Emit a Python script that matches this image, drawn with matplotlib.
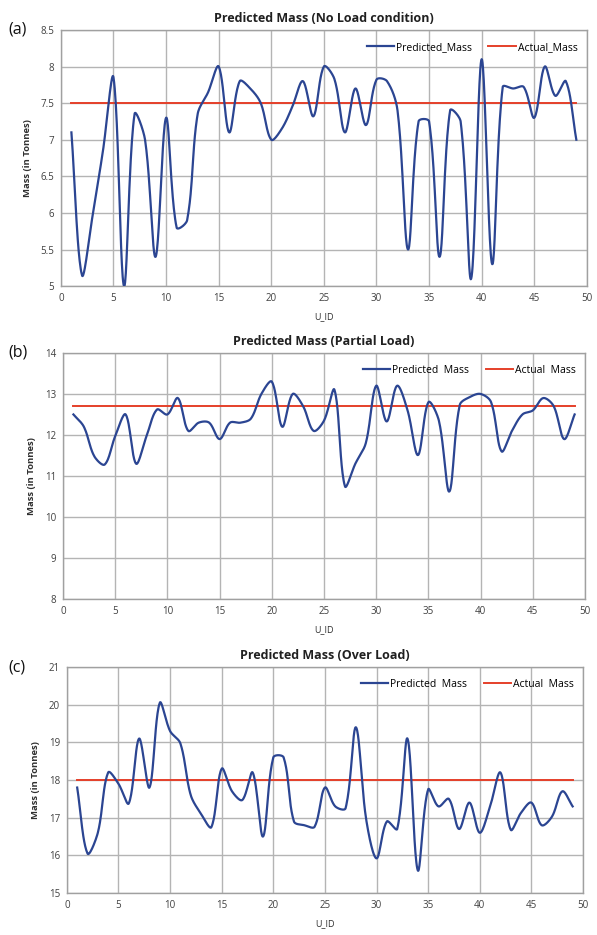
import numpy as np
import matplotlib
matplotlib.use("Agg")
import matplotlib.pyplot as plt

plt.rcParams['font.family'] = ['Open Sans', 'DejaVu Sans']

u_id = list(range(1, 50))

# (a) no load
pred_a = [7.1, 5.15, 5.95, 6.85, 7.85, 5.0, 7.35, 7.0, 5.4, 7.3,
          5.8, 5.9, 7.35, 7.65, 8.0, 7.1, 7.8, 7.7, 7.5, 7.0,
          7.15, 7.45, 7.8, 7.32, 8.0, 7.83, 7.1, 7.7, 7.2, 7.82,
          7.8, 7.4, 5.5, 7.25, 7.25, 5.4, 7.4, 7.25, 5.1, 8.1,
          5.3, 7.72, 7.7, 7.72, 7.3, 8.0, 7.6, 7.8, 7.0]
actual_a = 7.5

# (b) partial load
pred_b = [12.5, 12.2, 11.48, 11.28, 11.97, 12.5, 11.3, 11.97, 12.62, 12.5,
          12.9, 12.1, 12.3, 12.3, 11.9, 12.3, 12.3, 12.4, 13.0, 13.3,
          12.2, 13.0, 12.7, 12.1, 12.35, 13.1, 10.75, 11.3, 11.8, 13.2,
          12.33, 13.2, 12.6, 11.51, 12.8, 12.35, 10.62, 12.73, 12.93, 13.0,
          12.8, 11.6, 12.1, 12.5, 12.6, 12.9, 12.7, 11.9, 12.5]
actual_b = 12.7

# (c) over load
pred_c = [17.8, 16.05, 16.6, 18.2, 17.9, 17.38, 19.1, 17.8, 20.05, 19.3,
          18.97, 17.6, 17.1, 16.75, 18.3, 17.7, 17.47, 18.2, 16.5, 18.6,
          18.6, 16.9, 16.8, 16.76, 17.8, 17.3, 17.25, 19.4, 16.95, 15.92,
          16.9, 16.7, 19.1, 15.6, 17.75, 17.3, 17.5, 16.7, 17.4, 16.6,
          17.3, 18.2, 16.68, 17.13, 17.4, 16.8, 17.03, 17.7, 17.3]
actual_c = 18.0

panels = [
    dict(letter='(a)', title='Predicted Mass (No Load condition)', pred=pred_a, actual=actual_a,
         ylim=(5, 8.5), yticks=[5, 5.5, 6, 6.5, 7, 7.5, 8, 8.5],
         ylabels=['5', '5.5', '6', '6.5', '7', '7.5', '8', '8.5'],
         leg=('Predicted_Mass', 'Actual_Mass'),
         rect=[0.102, 0.694, 0.881, 0.274]),
    dict(letter='(b)', title='Predicted Mass (Partial Load)', pred=pred_b, actual=actual_b,
         ylim=(8, 14), yticks=[8, 9, 10, 11, 12, 13, 14],
         ylabels=['8', '9', '10', '11', '12', '13', '14'],
         leg=('Predicted  Mass', 'Actual  Mass'),
         rect=[0.1055, 0.3594, 0.8745, 0.2631]),
    dict(letter='(c)', title='Predicted Mass (Over Load)', pred=pred_c, actual=actual_c,
         ylim=(15, 21), yticks=[15, 16, 17, 18, 19, 20, 21],
         ylabels=['15', '16', '17', '18', '19', '20', '21'],
         leg=('Predicted  Mass', 'Actual  Mass'),
         rect=[0.112, 0.0449, 0.8645, 0.2417]),
]

BLUE = '#2b4592'
RED = '#e5402a'
GRID = '#b4b4b4'
W, H = 597, 935


def smooth(x, y, kx, ky, n=24):
    # Excel-like smoothed line: bezier segments, control arms scaled by
    # on-screen chord lengths (kx, ky = pixels per data unit)
    P = np.column_stack([np.asarray(x, float) * kx, np.asarray(y, float) * ky])
    P = np.vstack([P[0], P, P[-1]])
    t = np.linspace(0, 1, n, endpoint=False)[:, None]
    out = []
    for i in range(1, len(P) - 2):
        p0, p1, p2, p3 = P[i - 1], P[i], P[i + 1], P[i + 2]
        d01 = np.hypot(*(p1 - p0))
        d12 = np.hypot(*(p2 - p1))
        d23 = np.hypot(*(p3 - p2))
        c1 = p1 + (p2 - p0) * d12 / (3 * max(d01 + d12, 1e-9))
        c2 = p2 - (p3 - p1) * d12 / (3 * max(d12 + d23, 1e-9))
        seg = ((1 - t) ** 3 * p1 + 3 * (1 - t) ** 2 * t * c1
               + 3 * (1 - t) * t ** 2 * c2 + t ** 3 * p2)
        out.append(seg)
    out.append(P[-2][None, :])
    out = np.vstack(out)
    return out[:, 0] / kx, out[:, 1] / ky


fig = plt.figure(figsize=(W / 100, H / 100), dpi=100)

for p in panels:
    ax = fig.add_axes(p['rect'])
    ax.set_xlim(0, 50)
    ax.set_ylim(*p['ylim'])
    kx = p['rect'][2] * W / 50
    ky = p['rect'][3] * H / (p['ylim'][1] - p['ylim'][0])
    sx, sy = smooth(u_id, p['pred'], kx, ky)
    ax.plot(sx, sy, color=BLUE, lw=1.6, label=p['leg'][0], zorder=3)
    ax.plot([u_id[0], u_id[-1]], [p['actual'], p['actual']], color=RED, lw=1.4,
            label=p['leg'][1], zorder=2)
    ax.set_xticks(range(0, 51, 5))
    ax.set_yticks(p['yticks'])
    ax.set_yticklabels(p['ylabels'])
    ax.grid(True, color=GRID, lw=1.0)
    ax.set_axisbelow(True)
    ax.tick_params(length=0, labelsize=7, colors='#404040', pad=5)
    for s in ax.spines.values():
        s.set_color('#a0a0a0')
        s.set_linewidth(1.0)
    ax.set_ylabel('Mass (in Tonnes)', fontsize=6.8, fontweight='bold', color='#303030', labelpad=6)
    ax.set_xlabel('U_ID', fontsize=6.5, color='#303030', labelpad=6)
    ax.set_title(p['title'], fontsize=9, fontweight='bold', color='#202020', pad=6)
    # panel letter sits left of the top tick label
    left_px = p['rect'][0] * W
    ax.text((8 - left_px) / (p['rect'][2] * W), 1.0, p['letter'], transform=ax.transAxes,
            fontsize=11.5, ha='left', va='center', color='#111111')
    ax.legend(loc='upper right', ncol=2, frameon=False, fontsize=7.5, handlelength=2.6,
              handletextpad=0.2, columnspacing=1.6, bbox_to_anchor=(1.0, 0.99))

fig.savefig('out.png', dpi=100, facecolor='white')
